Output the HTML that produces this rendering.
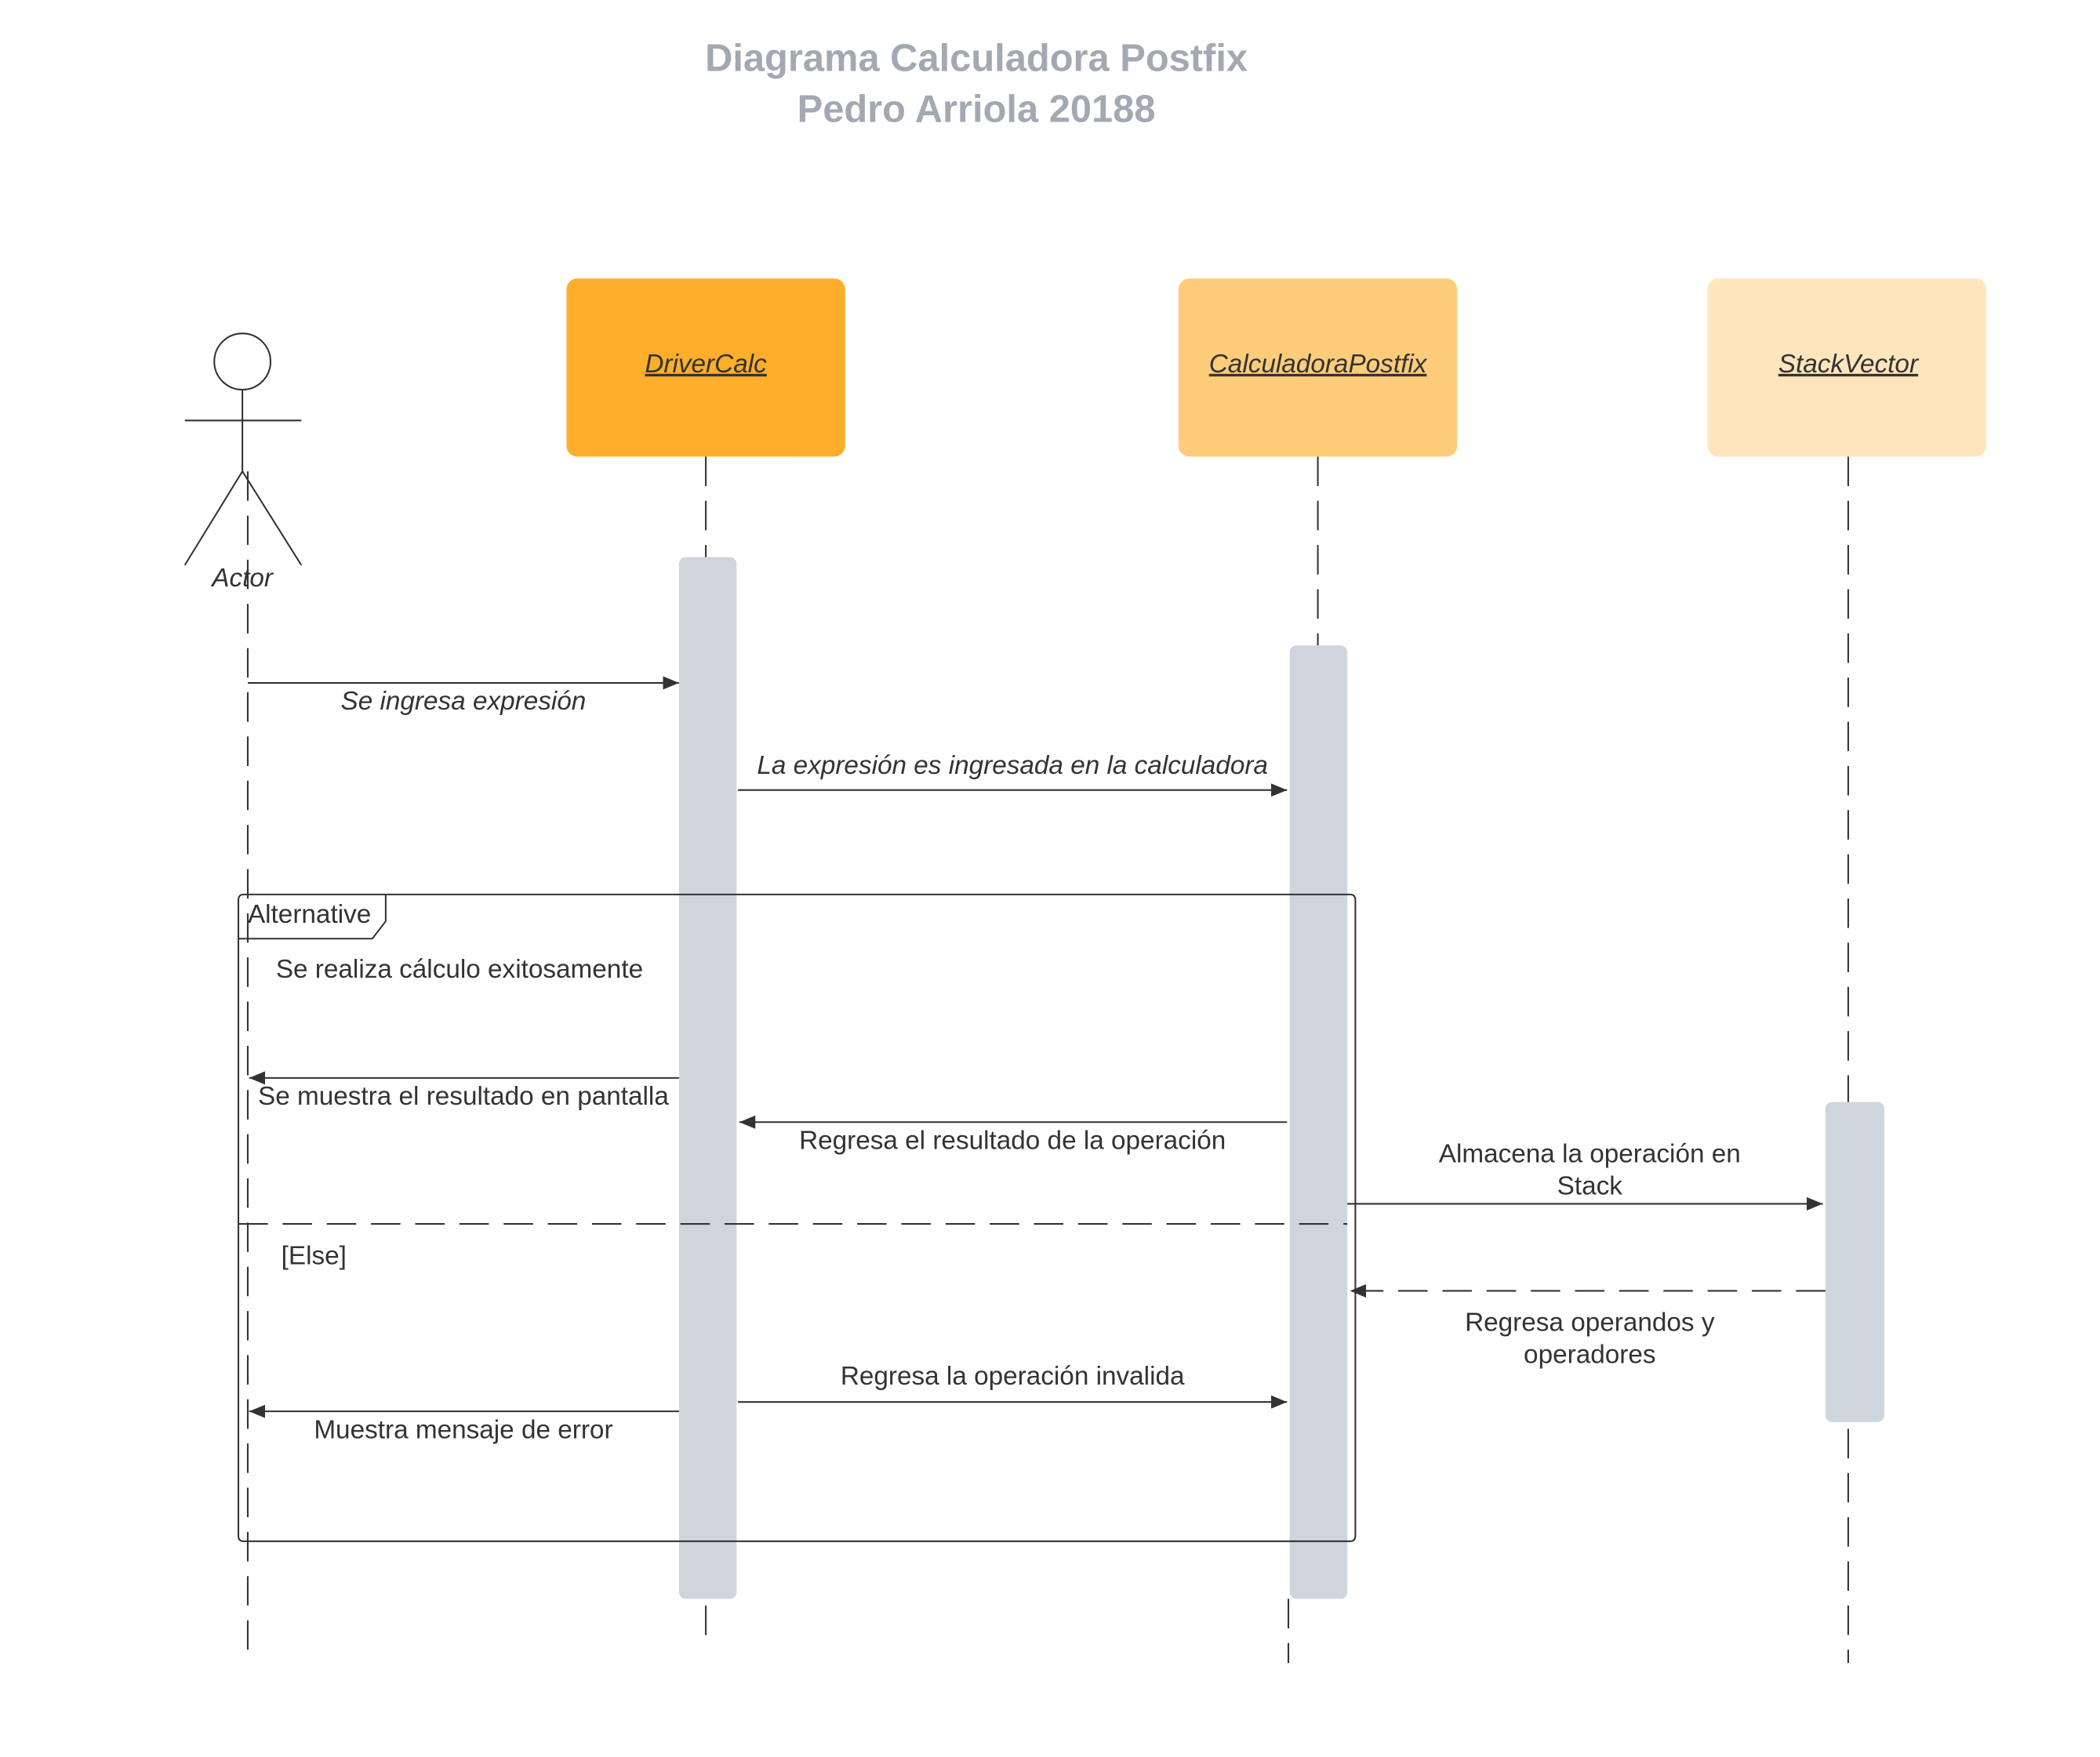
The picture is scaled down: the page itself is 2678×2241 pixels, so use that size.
<!DOCTYPE html>
<html><head><meta charset="utf-8"><style>html,body{margin:0;padding:0;background:#fff}svg{display:block}</style></head>
<body>
<svg width="2678" height="2241" viewBox="0 0 1568 1312.1" xmlns="http://www.w3.org/2000/svg" font-family="Liberation Sans, sans-serif">
<defs><marker id="a" markerWidth="12" markerHeight="10" refX="12" refY="5" orient="auto" markerUnits="userSpaceOnUse"><path d="M0,0 L12,5 L0,10 z" fill="#333"/></marker></defs>
<rect width="1600" height="1320" fill="#fff"/>
<g font-weight="bold" font-size="28.6" fill="#a3a9b3" text-anchor="middle">
<text x="729" y="53">Diagrama Calculadora Postfix</text>
<text x="729" y="91">Pedro Arriola 20188</text></g>
<g stroke="#333" stroke-width="1.2" fill="none" stroke-dasharray="22,11">
<line x1="185" y1="352" x2="185" y2="1242"/>
<line x1="527" y1="341" x2="527" y2="1232"/>
<line x1="984" y1="341" x2="984" y2="482"/>
<line x1="962" y1="1194" x2="962" y2="1242"/>
<line x1="1380" y1="341" x2="1380" y2="1242"/>
</g>
<g fill="none" stroke="#333" stroke-width="1.2">
<circle cx="181" cy="270" r="21"/>
<line x1="138" y1="314" x2="225" y2="314"/>
<line x1="181" y1="291" x2="181" y2="352"/>
<line x1="181" y1="352" x2="138" y2="422"/>
<line x1="181" y1="352" x2="225" y2="422"/>
</g>
<text x="181" y="438" font-size="19.5" font-style="italic" fill="#333" text-anchor="middle">Actor</text>
<rect x="423" y="208" width="208" height="133" rx="8" fill="#ffae2b"/>
<rect x="880" y="208" width="208" height="133" rx="8" fill="#ffcc7a"/>
<rect x="1275" y="208" width="208" height="133" rx="8" fill="#ffe5bd"/>
<g font-size="19.5" font-style="italic" fill="#333" text-anchor="middle" text-decoration="underline">
<text x="527" y="278">DriverCalc</text>
<text x="984" y="278">CalculadoraPostfix</text>
<text x="1380" y="278">StackVector</text></g>
<rect x="507" y="416" width="43" height="778" rx="5" fill="#cfd5dd"/>
<rect x="963" y="482" width="43" height="712" rx="5" fill="#cfd5dd"/>
<rect x="1363" y="823" width="44" height="239" rx="5" fill="#cfd5dd"/>
<path d="M182,668 H1008 Q1012,668 1012,672 V1147 Q1012,1151 1008,1151 H182 Q178,1151 178,1147 V672 Q178,668 182,668 Z" fill="none" stroke="#333" stroke-width="1.2"/>
<path d="M178,701 H278 L288,688 V668" fill="none" stroke="#333" stroke-width="1.2"/>
<line x1="178" y1="914" x2="1006" y2="914" stroke="#333" stroke-width="1.2" stroke-dasharray="22,11"/>
<g stroke="#333" stroke-width="1.2" marker-end="url(#a)">
<line x1="185" y1="510" x2="507" y2="510"/>
<line x1="551" y1="590" x2="961" y2="590"/>
<line x1="507" y1="805" x2="186" y2="805"/>
<line x1="961" y1="838" x2="552" y2="838"/>
<line x1="1006" y1="899" x2="1361" y2="899"/>
<line x1="1363" y1="964" x2="1008" y2="964" stroke-dasharray="22,11"/>
<line x1="551" y1="1047" x2="961" y2="1047"/>
<line x1="507" y1="1054" x2="186" y2="1054"/>
</g>
<g font-size="19.5" fill="#333" text-anchor="middle">
<text x="346" y="530" font-style="italic">Se ingresa expresión</text>
<text x="756" y="578" font-style="italic">La expresión es ingresada en la calculadora</text>
<text x="346" y="825">Se muestra el resultado en pantalla</text>
<text x="756" y="858">Regresa el resultado de la operación</text>
<text x="1187" y="868">Almacena la operación en</text>
<text x="1187" y="892">Stack</text>
<text x="1187" y="994">Regresa operandos y</text>
<text x="1187" y="1018">operadores</text>
<text x="756" y="1034">Regresa la operación invalida</text>
<text x="346" y="1074">Muestra mensaje de error</text>
</g>
<g font-size="19.5" fill="#333">
<text x="185" y="689">Alternative</text>
<text x="206" y="730">Se realiza cálculo exitosamente</text>
<text x="210" y="944">[Else]</text>
</g>
</svg>
</body></html>
